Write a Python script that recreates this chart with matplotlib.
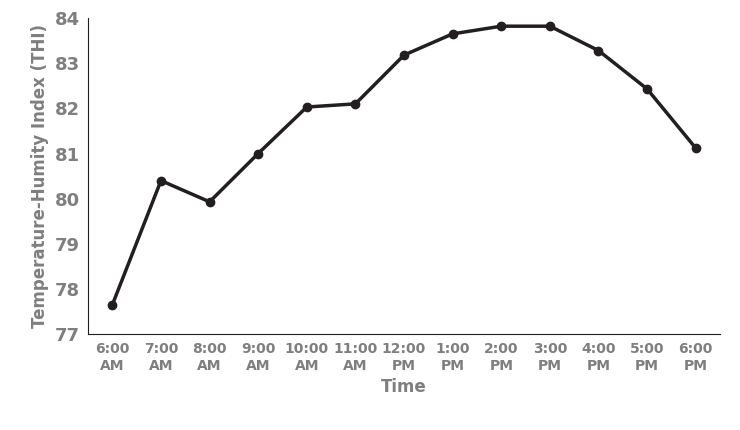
import matplotlib
matplotlib.use("Agg")
import matplotlib.pyplot as plt

times = ["6:00\nAM","7:00\nAM","8:00\nAM","9:00\nAM","10:00\nAM","11:00\nAM","12:00\nPM",
         "1:00\nPM","2:00\nPM","3:00\nPM","4:00\nPM","5:00\nPM","6:00\nPM"]
thi = [77.65, 80.4, 79.93, 81.0, 82.03, 82.1, 83.18, 83.65, 83.82, 83.82, 83.28, 82.43, 81.12]
yticks = [77, 78, 79, 80, 81, 82, 83, 84]

fig = plt.figure(figsize=(7.4, 4.3), dpi=100)
ax = fig.add_axes([0.119, 0.223, 0.854, 0.735])
x = list(range(len(times)))
ax.plot(x, thi, color="#231f20", lw=2.5, marker="o", ms=6)
ax.set_xlim(-0.5, len(times) - 0.5)
ax.set_ylim(77, 84)
ax.set_yticks(yticks)
ax.set_xticks(x)
ax.set_xticklabels(times, fontsize=10, fontweight="bold", color="#7f7f7f")
for t in ax.get_yticklabels():
    t.set_fontsize(13); t.set_fontweight("bold"); t.set_color("#7f7f7f")
ax.tick_params(length=0, pad=6)
for s in ["top", "right"]:
    ax.spines[s].set_visible(False)
ax.spines["left"].set_color("#231f20")
ax.spines["bottom"].set_color("#231f20")
ax.set_xlabel("Time", fontsize=12, fontweight="bold", color="#7f7f7f")
ax.set_ylabel("Temperature-Humity Index (THI)", fontsize=12, fontweight="bold", color="#7f7f7f")
fig.savefig("out.png", dpi=100)
